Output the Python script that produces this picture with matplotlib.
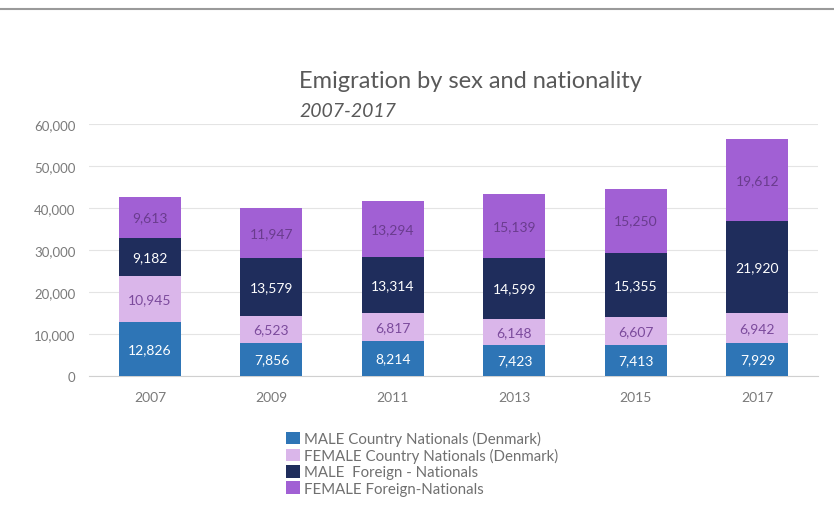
import numpy as np
import matplotlib.pyplot as plt
from matplotlib.lines import Line2D
from matplotlib.patches import Patch

years = ["2007", "2009", "2011", "2013", "2015", "2017"]
male_dk = [12826, 7856, 8214, 7423, 7413, 7929]
female_dk = [10945, 6523, 6817, 6148, 6607, 6942]
male_foreign = [9182, 13579, 13314, 14599, 15355, 21920]
female_foreign = [9613, 11947, 13294, 15139, 15250, 19612]

series_names = [
    "MALE Country Nationals (Denmark)",
    "FEMALE Country Nationals (Denmark)",
    "MALE  Foreign - Nationals",
    "FEMALE Foreign-Nationals",
]
colors = ["#2e75b6", "#dab6ea", "#1f2d5c", "#a160d4"]
label_colors = ["white", "#7b4a9c", "white", "#6a3c8e"]

plt.rcParams["font.family"] = ["Lato", "DejaVu Sans"]

fig = plt.figure(figsize=(8.34, 5.1), dpi=100)
ax = fig.add_axes([0.107, 0.261, 0.874, 0.494])

x = np.arange(len(years))
bottom = np.zeros(len(years))
for vals, name, col, lcol in zip([male_dk, female_dk, male_foreign, female_foreign],
                                 series_names, colors, label_colors):
    vals = np.array(vals, dtype=float)
    bars = ax.bar(x, vals, width=0.51, bottom=bottom, color=col, label=name, zorder=3)
    for b, v in zip(bars, vals):
        ax.text(b.get_x() + b.get_width() / 2, b.get_y() + v / 2, f"{int(v):,}",
                ha="center", va="center", fontsize=10, color=lcol, zorder=4)
    bottom += vals

ax.set_xlim(-0.5, len(years) - 0.5)
ax.set_ylim(0, 60000)
ax.set_yticks(np.arange(0, 60001, 10000))
ax.set_yticklabels([f"{v:,}" for v in range(0, 60001, 10000)])
ax.set_xticks(x)
ax.set_xticklabels(years)
ax.tick_params(axis="both", length=0, labelsize=10, colors="#7a7a7a")
ax.tick_params(axis="x", pad=11)
ax.tick_params(axis="y", labelsize=9.5, pad=10)
ax.grid(axis="y", color="#e4e4e4", linewidth=0.8, zorder=0)
for s in ["top", "right", "left"]:
    ax.spines[s].set_visible(False)
ax.spines["bottom"].set_color("#d0d0d0")

# title block
fig.text(0.359, 0.827, "Emigration by sex and nationality", fontsize=17,
         color="#595959", ha="left", va="baseline")
fig.text(0.359, 0.771, "2007-2017", fontsize=14, style="italic",
         color="#595959", ha="left", va="baseline")

# separator line at the top of the page
fig.add_artist(Line2D([0, 1], [0.98, 0.98], color="#9a9a9a", linewidth=1.5,
                      transform=fig.transFigure))

handles = [Patch(facecolor=c) for c in colors]
fig.legend(handles, series_names, loc="upper left", bbox_to_anchor=(0.334, 0.167),
           frameon=False, fontsize=10.8, labelcolor="#707070", handlelength=0.9,
           handleheight=0.9, handletextpad=0.3, labelspacing=0.12, borderpad=0)

fig.savefig("out.png", dpi=100)
